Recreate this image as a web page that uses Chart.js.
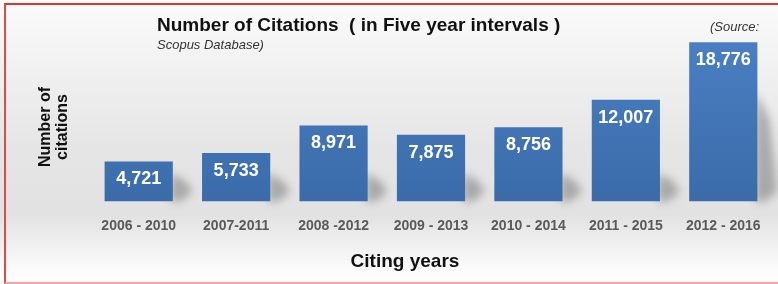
<!DOCTYPE html>
<html>
<head>
<meta charset="utf-8">
<script src="https://cdn.jsdelivr.net/npm/chart.js@4"></script>
<style>
    html, body {
        margin: 0;
        padding: 0;
        width: 778px;
        height: 284px;
        overflow: hidden;
    }
    body {
        background: linear-gradient(to bottom, #fbfbfb 0px, #f2f2f2 60px, #e5e5e5 150px, #e2e2e2 215px, #f0f0f0 245px, #fdfdfd 275px);
    }
    #frame {
        position: absolute;
        left: 4px;
        top: 3px;
        width: 800px;
        height: 277px;
        border-top: 2px solid #e03434;
        border-left: 2px solid #e04a4a;
        border-bottom: 2px solid #f4a6a6;
    }
    #wrap {
        position: absolute;
        left: 0;
        top: 0;
        width: 778px;
        height: 284px;
    }
</style>
</head>
<body>
<div id="frame"></div>
<div id="wrap"><canvas id="chart"></canvas></div>
<script>
const categories = ['2006 - 2010', '2007-2011', '2008 -2012', '2009 - 2013', '2010 - 2014', '2011 - 2015', '2012 - 2016'];
const citations = [4721, 5733, 8971, 7875, 8756, 12007, 18776];

const titleText = 'Number of Citations  ( in Five year intervals )';
const sourceText = '(Source:';
const sourceText2 = 'Scopus Database)';
const yTitle = ['Number of', 'citations'];
const xTitle = 'Citing years';

const FONT = '"Liberation Sans", Arial, sans-serif';

// shadow wedge behind each bar + value labels inside bars
const barDecor = {
    id: 'barDecor',
    beforeDatasetsDraw(chart) {
        const ctx = chart.ctx;
        const meta = chart.getDatasetMeta(0);
        ctx.save();
        ctx.filter = 'blur(4px)';
        ctx.fillStyle = 'rgba(60,60,60,0.35)';
        meta.data.forEach((bar, i) => {
            const right = bar.x + bar.width / 2;
            const bottom = bar.base;
            const h = Math.min(bottom - bar.y, i === meta.data.length - 1 ? 110 : 28);
            ctx.beginPath();
            ctx.moveTo(right - 2, bottom);
            ctx.lineTo(right - 2, bottom - h);
            ctx.lineTo(right + 12, bottom - h * 0.75);
            ctx.lineTo(right + 20, bottom - 10);
            ctx.lineTo(right + 8, bottom);
            ctx.closePath();
            ctx.fill();
        });
        ctx.restore();
    },
    afterDatasetsDraw(chart) {
        const ctx = chart.ctx;
        const meta = chart.getDatasetMeta(0);
        ctx.save();
        ctx.font = 'bold 18px ' + FONT;
        ctx.fillStyle = '#ffffff';
        ctx.textAlign = 'center';
        ctx.textBaseline = 'middle';
        meta.data.forEach((bar, i) => {
            ctx.fillText(citations[i].toLocaleString('en-US'), bar.x, bar.y + 18);
        });
        ctx.restore();
    }
};

// titles drawn as text on the canvas
const texts = {
    id: 'texts',
    afterDraw(chart) {
        const ctx = chart.ctx;
        ctx.save();
        ctx.fillStyle = '#111111';
        ctx.textBaseline = 'middle';
        ctx.textAlign = 'left';
        ctx.font = 'bold 19px ' + FONT;
        ctx.fillText(titleText, 157, 26);

        ctx.font = 'italic 13px ' + FONT;
        ctx.fillStyle = '#333333';
        ctx.fillText(sourceText2, 157, 45);
        ctx.fillText(sourceText, 710, 27);

        ctx.fillStyle = '#111111';
        ctx.font = 'bold 19px ' + FONT;
        ctx.textAlign = 'center';
        ctx.fillText(xTitle, 405, 262);

        ctx.font = 'bold 16px ' + FONT;
        ctx.translate(54, 127);
        ctx.rotate(-Math.PI / 2);
        ctx.fillText(yTitle[0], 0, -8.5);
        ctx.fillText(yTitle[1], 0, 8.5);
        ctx.restore();
    }
};

window.onload = () => {
    const canvas = document.getElementById('chart');
    const ctx = canvas.getContext('2d');
    const grad = ctx.createLinearGradient(0, 30, 0, 202);
    grad.addColorStop(0, '#4a80c4');
    grad.addColorStop(1, '#3b6ba9');

    new Chart(ctx, {
        type: 'bar',
        data: {
            labels: categories,
            datasets: [{
                label: 'Number of citations',
                data: citations,
                backgroundColor: grad,
                borderWidth: 0,
                categoryPercentage: 0.7,
                barPercentage: 1.0
            }]
        },
        options: {
            responsive: true,
            maintainAspectRatio: false,
            animation: false,
            layout: {
                padding: { left: 90, right: 6, top: 32, bottom: 0 }
            },
            plugins: {
                legend: { display: false },
                tooltip: { enabled: false }
            },
            scales: {
                x: {
                    grid: { display: false },
                    border: { display: false },
                    ticks: {
                        color: '#5a5a5a',
                        padding: 8,
                        font: { family: FONT, size: 14, weight: 'bold' },
                        maxRotation: 0,
                        autoSkip: false
                    },
                    afterFit: (scale) => { scale.height = 82.5; }
                },
                y: {
                    display: false,
                    min: 0,
                    max: 20000
                }
            }
        },
        plugins: [barDecor, texts]
    });
};
</script>
</body>
</html>
